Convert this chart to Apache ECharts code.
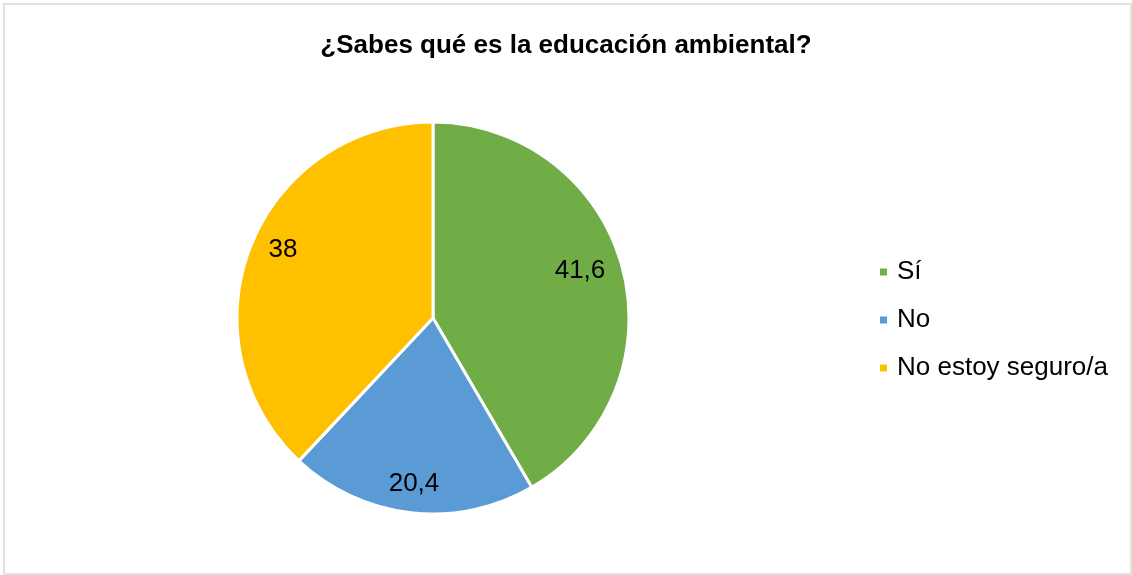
<!DOCTYPE html>
<html><head><meta charset="utf-8">
<script src="https://cdn.jsdelivr.net/npm/echarts@6/dist/echarts.min.js"></script>
<style>html,body{margin:0;padding:0;background:#fff}#c{width:1132px;height:575px}</style>
</head><body><div id="c"></div>
<script>
var categories = ['Sí', 'No', 'No estoy seguro/a'];
var values = [41.6, 20.4, 38];
var labelTexts = ['41,6', '20,4', '38'];
var colors = ['#70AD47', '#5B9BD5', '#FFC000'];
var labelPos = [[580, 271], [414, 484], [283, 250]];

var chart = echarts.init(document.getElementById('c'));
chart.setOption({
  animation: false,
  backgroundColor: '#fff',
  graphic: [{type: 'rect', shape: {x: 4, y: 4, width: 1127, height: 570}, style: {fill: 'none', stroke: '#d9d9d9', lineWidth: 1.5}, silent: true}],
  title: {text: '¿Sabes qué es la educación ambiental?', left: 'center', top: 28,
    textStyle: {fontFamily: 'Liberation Sans, Arial', fontSize: 26, fontWeight: 'bold', color: '#000'}},
  legend: {orient: 'vertical', left: 873, top: 254, itemWidth: 9, itemHeight: 9, itemGap: 22, icon: 'rect',
    data: categories,
    textStyle: {fontFamily: 'Liberation Sans, Arial', fontSize: 26, color: '#000', padding: [0, 0, 0, 4]}},
  series: [{
    type: 'pie', center: [433, 318], radius: 196, startAngle: 90, clockwise: true,
    data: categories.map(function (c, i) { return {name: c, value: values[i], itemStyle: {color: colors[i]}}; }),
    itemStyle: {borderColor: '#fff', borderWidth: 3},
    label: {show: true, position: 'inside', fontFamily: 'Liberation Sans, Arial', fontSize: 26, color: '#000',
      formatter: function (p) { return labelTexts[p.dataIndex]; }},
    labelLine: {show: false},
    labelLayout: function (p) {
      var pos = labelPos[p.dataIndex];
      return {x: pos[0], y: pos[1], align: 'center', verticalAlign: 'middle'};
    }
  }]
});
</script></body></html>
